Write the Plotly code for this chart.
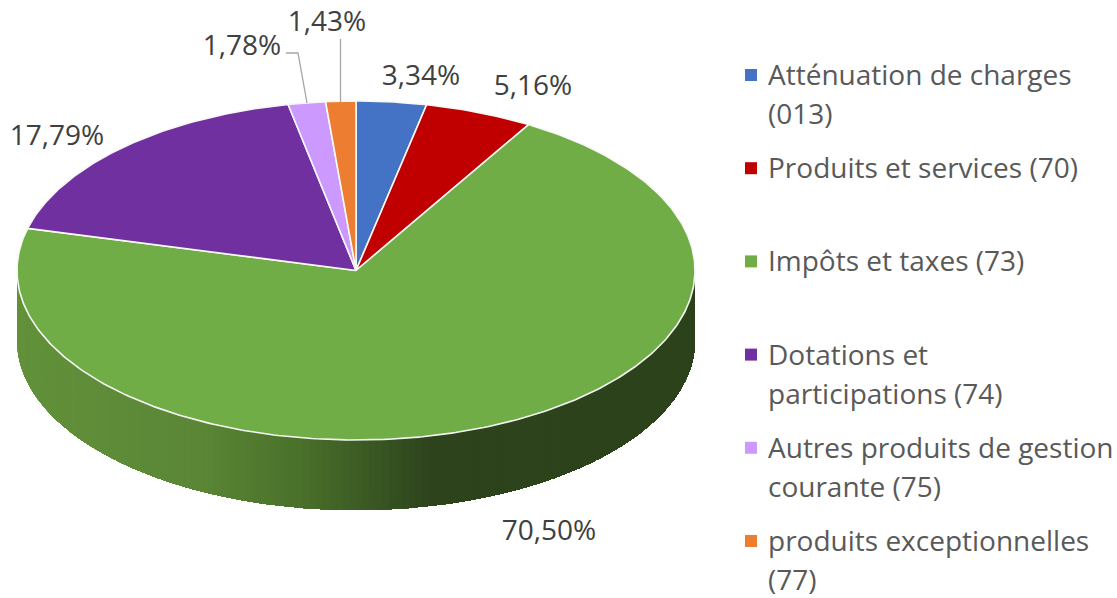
import numpy as np
import plotly.graph_objects as go

# --- data -------------------------------------------------------------
categories = ["Atténuation de charges (013)", "Produits et services (70)", "Impôts et taxes (73)",
              "Dotations et participations (74)", "Autres produits de gestion courante (75)",
              "produits exceptionnelles (77)"]
values = [3.34, 5.16, 70.50, 17.79, 1.78, 1.43]
value_labels = ["3,34%", "5,16%", "70,50%", "17,79%", "1,78%", "1,43%"]
legend_lines = [["Atténuation de charges", "(013)"], ["Produits et services (70)"], ["Impôts et taxes (73)"],
                ["Dotations et", "participations (74)"], ["Autres produits de gestion", "courante (75)"],
                ["produits exceptionnelles", "(77)"]]
colors = ["#4472C4", "#C00000", "#70AD47", "#7030A0", "#CC99FF", "#ED7D31"]

# --- layout constants (pixels) -----------------------------------------
CX, CY, RX, RY, DEPTH = 356, 270.5, 339, 169.5, 70
FONT = "Open Sans"
LABEL_POS = [(421, 78), (533, 88), (549, 533), (57, 138), (242, 48), (327, 24)]
LEADERS = [([286, 298, 307], [53, 53, 103]), ([340.5, 340.5], [39, 102])]
GRAD_X = [17, 200, 300, 360, 430, 695]
GRAD_C = [(98, 145, 58), (90, 134, 54), (74, 112, 42), (60, 92, 36), (45, 67, 28), (44, 66, 27)]


def rim(t):
    return CX + RX * np.sin(t), CY - RY * np.cos(t)


fig = go.Figure()

# side wall: painted from the left, each layer covering everything still to its right, so no seams show
edges = np.linspace(3 * np.pi / 2, np.pi / 2, 161)
for k in range(len(edges) - 1):
    x, y = rim(edges[k:])
    xm = float(rim((edges[k] + edges[k + 1]) / 2)[0])
    c = [int(round(np.interp(xm, GRAD_X, [g[i] for g in GRAD_C]))) for i in range(3)]
    fig.add_trace(go.Scatter(x=np.r_[x, x[::-1]], y=np.r_[y, y[::-1] + DEPTH], mode="none", fill="toself",
                             fillcolor=f"rgb({c[0]},{c[1]},{c[2]})", hoverinfo="skip", showlegend=False))

# top slices
fractions = np.cumsum([0] + values) / sum(values)
for i, (name, col) in enumerate(zip(categories, colors)):
    t = np.linspace(fractions[i], fractions[i + 1], max(4, int(values[i] * 5))) * 2 * np.pi
    x, y = rim(t)
    fig.add_trace(go.Scatter(x=np.r_[CX, x, CX], y=np.r_[CY, y, CY], mode="lines", fill="toself", fillcolor=col,
                             line=dict(color="#F7F8F5", width=1.6), name=name, showlegend=False,
                             hovertemplate=name + ": " + value_labels[i] + "<extra></extra>"))

# leader lines
for lx, ly in LEADERS:
    fig.add_trace(go.Scatter(x=lx, y=ly, mode="lines", line=dict(color="#A6A6A6", width=1.3),
                             hoverinfo="skip", showlegend=False))

# data labels
fig.add_trace(go.Scatter(x=[p[0] for p in LABEL_POS], y=[p[1] for p in LABEL_POS], mode="text", text=value_labels,
                         textposition="middle center", textfont=dict(family=FONT, size=28, color="#404040"),
                         cliponaxis=False, hoverinfo="skip", showlegend=False))

# legend, drawn in the chart's own coordinates
rows_y, tx, ty, tt = [75 + 93.2 * i for i in range(6)], [], [], []
for ry, lines in zip(rows_y, legend_lines):
    for j, line in enumerate(lines):
        tx.append(768)
        ty.append(ry + 3 + 39 * j)
        tt.append(line)
fig.add_trace(go.Scatter(x=[751] * 6, y=rows_y, mode="markers",
                         marker=dict(symbol="square", size=12, color=colors), hoverinfo="skip", showlegend=False))
fig.add_trace(go.Scatter(x=tx, y=ty, mode="text", text=tt, textposition="middle right",
                         textfont=dict(family=FONT, size=28, color="#595959"),
                         cliponaxis=False, hoverinfo="skip", showlegend=False))

axis = dict(visible=False, fixedrange=True)
fig.update_layout(width=1117, height=598, margin=dict(l=0, r=0, t=0, b=0), paper_bgcolor="white",
                  plot_bgcolor="white", font=dict(family=FONT), showlegend=False,
                  xaxis=dict(range=[0, 1117], **axis), yaxis=dict(range=[598, 0], **axis))
fig.write_html("out.html", config={"displayModeBar": False},
               post_script="document.body.style.margin='0';document.body.style.overflow='hidden';")
